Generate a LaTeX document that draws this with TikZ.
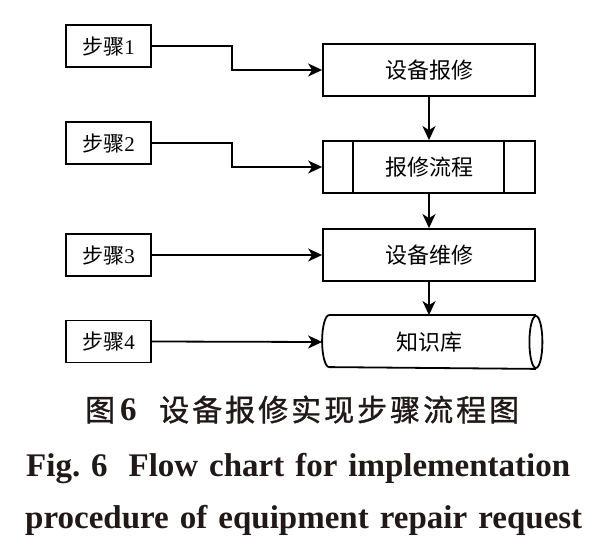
\documentclass[tikz,border=0pt]{standalone}
\usepackage{fontspec}
\setmainfont{Liberation Serif}
\newfontfamily\cjk{Noto Sans CJK SC}
\newfontfamily\cjkm{Noto Sans CJK SC}[FakeBold=1.2]
\usetikzlibrary{arrows.meta,calc}
\definecolor{capcol}{rgb}{0.13,0.10,0.09}
\begin{document}
\begin{tikzpicture}[x=1pt,y=-1pt,
  lw/.style={line width=1.8pt},
  stepbox/.style={draw,lw,minimum width=85pt,minimum height=42pt,inner sep=0pt,
    font=\fontsize{21}{21}\selectfont},
  procbox/.style={draw,lw,minimum width=212pt,minimum height=52pt,inner sep=0pt,
    font=\cjk\fontsize{22}{22}\selectfont},
  arr/.style={lw,-{Stealth[length=14pt,width=13pt,inset=4pt]}},
  captxt/.style={anchor=base west,inner sep=0pt,text=capcol}]
\useasboundingbox (0,0) rectangle (595,553);
% left step boxes
\node[stepbox] (s1) at (108.5,46) {{\cjk 步骤}1};
\node[stepbox] (s2) at (108.5,143) {{\cjk 步骤}2};
\node[stepbox] (s3) at (108.5,255) {{\cjk 步骤}3};
\node[stepbox] (s4) at (108.5,341.5) {{\cjk 步骤}4};
% right process boxes
\node[procbox] (b1) at (429,70) {设备报修};
\node[procbox] (b2) at (429,167) {报修流程};
\draw[lw] ($(b2.north west)+(31,0)$) -- ($(b2.south west)+(31,0)$);
\draw[lw] ($(b2.north east)+(-32,0)$) -- ($(b2.south east)+(-32,0)$);
\node[procbox] (b3) at (429,255) {设备维修};
\node[procbox,draw=none] (b4) at (429,342) {知识库};
\draw[lw] (b4.north east) -- ($(b4.north west)+(7,0)$)
  arc[start angle=90,end angle=270,x radius=7pt,y radius=26pt] -- (b4.south east);
\draw[lw] (b4.east) ellipse[x radius=6.5pt,y radius=26pt];
% connectors
\draw[arr] (s1.east) -- ++(80,0) |- (b1.west);
\draw[arr] (s2.east) -- ++(80,0) |- (b2.west);
\draw[arr] (s3.east) -- (b3.west);
\draw[arr] (s4.east) -- (b4.west);
\draw[arr] (b1.south) -- (b2.north);
\draw[arr] (b2.south) -- (b3.north);
\draw[arr] (b3.south) -- (b4.north);
% captions
\node[captxt] (cap1) at (85,421) {\fontsize{30}{30}\selectfont{\cjkm 图}\kern5pt{\bfseries\fontsize{33}{33}\selectfont 6}\kern22.5pt{\cjkm 设\kern3pt 备\kern3pt 报\kern3pt 修\kern3pt 实\kern3pt 现\kern3pt 步\kern3pt 骤\kern3pt 流\kern3pt 程\kern3pt 图}};
\node[captxt] (cap2) at (26,477) {\bfseries\fontsize{33}{33}\selectfont\makebox[544pt][s]{Fig.\ 6\hspace{10pt} Flow chart for implementation}};
\node[captxt] (cap3) at (25,528) {\bfseries\fontsize{33}{33}\selectfont\makebox[557pt][s]{procedure of equipment repair request}};
\end{tikzpicture}
\end{document}
